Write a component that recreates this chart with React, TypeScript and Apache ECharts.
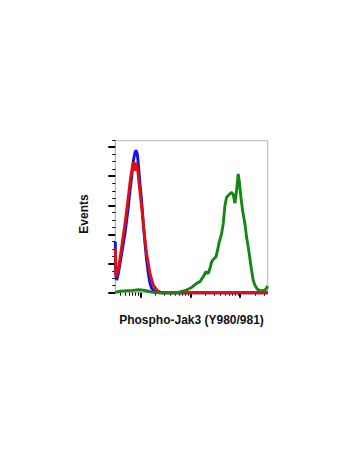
import React, { useEffect, useRef } from "react";
import * as echarts from "echarts";

// x values are log10 of fluorescence intensity (decades)
const blueX = [0.5, 0.506, 0.527, 0.561, 0.627, 0.694, 0.761, 0.794, 0.827, 0.861, 0.894, 0.914, 0.941, 0.967, 0.994, 1.027, 1.061, 1.094, 1.127, 1.161, 1.194, 1.227, 1.294, 1.4, 2.0, 3.55];
const blueY = [1.75, 0.7, 0.43, 0.66, 1.34, 2.03, 2.94, 3.51, 3.96, 4.53, 4.81, 4.89, 4.76, 4.3, 3.73, 3.16, 2.37, 1.69, 1.12, 0.66, 0.32, 0.15, 0.03, 0, 0, 0];

const redX = [0.5, 0.514, 0.56, 0.627, 0.694, 0.76, 0.807, 0.84, 0.86, 0.887, 0.907, 0.927, 0.95, 0.98, 1.027, 1.074, 1.127, 1.194, 1.26, 1.34, 1.43, 3.55];
const redY = [1.52, 0.55, 0.77, 1.57, 2.37, 3.28, 3.96, 4.3, 4.47, 4.42, 4.19, 4.47, 4.2, 3.68, 2.94, 2.14, 1.34, 0.66, 0.26, 0.07, 0, 0];

const greenX = [0.5, 0.594, 0.727, 0.86, 0.96, 1.06, 1.16, 1.26, 1.4, 1.7, 1.794, 1.927, 2.027, 2.127, 2.194, 2.26, 2.314, 2.36, 2.394, 2.427, 2.46, 2.514, 2.547, 2.58, 2.627, 2.66, 2.694, 2.727, 2.78, 2.827, 2.86, 2.894, 2.927, 2.96, 2.98, 3.014, 3.047, 3.094, 3.127, 3.16, 3.194, 3.227, 3.26, 3.294, 3.34, 3.394, 3.46, 3.514, 3.55];
const greenY = [0.01, 0.05, 0.07, 0.08, 0.1, 0.09, 0.05, 0.01, 0, 0, 0.03, 0.09, 0.18, 0.32, 0.38, 0.55, 0.72, 0.66, 0.83, 1.06, 1.14, 1.23, 1.46, 1.74, 2.03, 2.37, 2.99, 3.28, 3.37, 3.45, 3.37, 3.07, 3.51, 4.08, 3.85, 3.28, 2.82, 2.37, 1.91, 1.57, 1.17, 0.77, 0.43, 0.26, 0.13, 0.07, 0.07, 0.12, 0.23];

const xMin = 0.5;
const xMax = 3.55;
const yMax = 5.22;
const xMajorTicks = [1, 2, 3];
const xMinorMultipliers = [2, 3, 4, 5, 6, 7, 8, 9];
const xDecades = [0, 1, 2, 3];
const yMajorTicks = [0, 1, 2, 3, 4, 5];
const yMinorSteps = [0.25, 0.5, 0.75];

const xTitle = "Phospho-Jak3 (Y980/981)";
const yTitle = "Events";

const zip = (xs: number[], ys: number[]) => xs.map((x, i) => [x, ys[i]]);

export default function App() {
  const ref = useRef<HTMLDivElement>(null);
  useEffect(() => {
    if (!ref.current) return;
    const chart = echarts.init(ref.current, null, { renderer: "svg" });
    const xMinor: number[] = [];
    xDecades.forEach((d) =>
      xMinorMultipliers.forEach((m) => {
        const v = d + Math.log10(m);
        if (v > xMin && v < xMax) xMinor.push(v);
      })
    );
    const yMinor: number[] = [];
    yMajorTicks.forEach((k) => yMinorSteps.forEach((s) => yMinor.push(k + s)));
    yMinor.push(yMax);

    const grid = { left: 115.3, top: 140.7, width: 152.4, height: 152, show: true, borderColor: "#b4b4b4", borderWidth: 1, backgroundColor: "transparent" };
    const lineAxis = { show: true, lineStyle: { color: "#b4b4b4", width: 1 } };
    chart.setOption({
      animation: false,
      grid,
      xAxis: [
        { type: "value", min: xMin, max: xMax, axisLine: lineAxis, splitLine: { show: false }, axisLabel: { show: false },
          axisTick: { show: true, customValues: xMajorTicks, length: 5, lineStyle: { color: "#000", width: 2 } } },
        { type: "value", min: xMin, max: xMax, position: "bottom", axisLine: { show: false }, splitLine: { show: false }, axisLabel: { show: false },
          axisTick: { show: true, customValues: xMinor, length: 3, lineStyle: { color: "#000", width: 1 } } },
      ],
      yAxis: [
        { type: "value", min: 0, max: yMax, axisLine: lineAxis, splitLine: { show: false }, axisLabel: { show: false },
          axisTick: { show: true, customValues: yMajorTicks, length: 7, lineStyle: { color: "#000", width: 2 } } },
        { type: "value", min: 0, max: yMax, position: "left", axisLine: { show: false }, splitLine: { show: false }, axisLabel: { show: false },
          axisTick: { show: true, customValues: yMinor, length: 3, lineStyle: { color: "#000", width: 1 } } },
      ],
      series: [
        { type: "line", name: "blue", data: zip(blueX, blueY), showSymbol: false, clip: false, lineStyle: { color: "#1010f0", width: 2.9 } },
        { type: "line", name: "red", data: zip(redX, redY), showSymbol: false, clip: false, lineStyle: { color: "#dd1010", width: 2.9 } },
        { type: "line", name: "green", data: zip(greenX, greenY), showSymbol: false, clip: false, lineStyle: { color: "#158515", width: 2.9 } },
      ],
      graphic: [
        { type: "text", x: 191.5, y: 319.5, style: { text: xTitle, fill: "#111", font: "bold 12px 'Liberation Sans', Arial, sans-serif", align: "center", verticalAlign: "middle" } },
        { type: "text", x: 84, y: 214, rotation: Math.PI / 2, style: { text: yTitle, fill: "#111", font: "bold 12px 'Liberation Sans', Arial, sans-serif", align: "center", verticalAlign: "middle" } },
      ],
    });
    return () => chart.dispose();
  }, []);
  return <div ref={ref} style={{ position: "absolute", left: 0, top: 0, width: 350, height: 467, background: "#fff" }} />;
}
